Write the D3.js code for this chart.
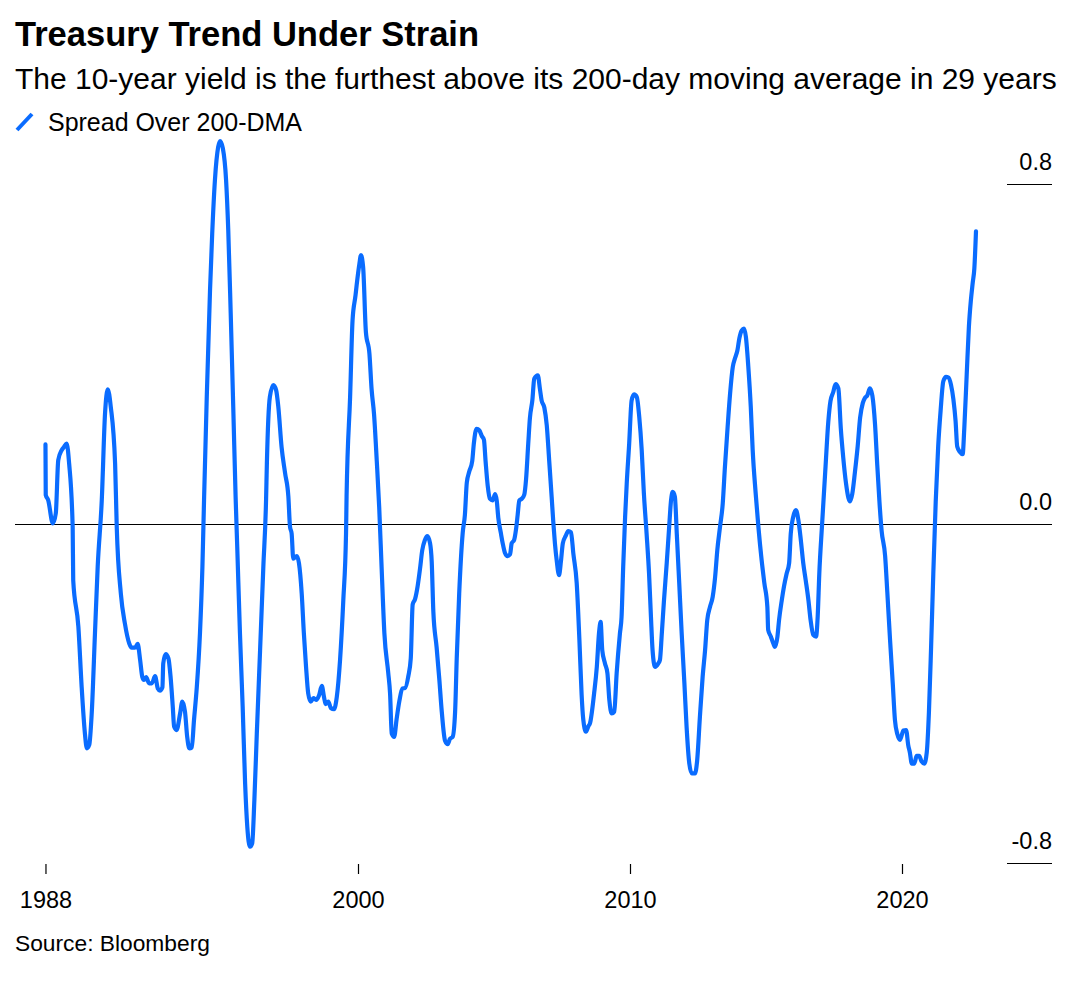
<!DOCTYPE html>
<html>
<head>
<meta charset="utf-8">
<script src="https://cdn.jsdelivr.net/npm/d3@7"></script>
<style>
  html, body { margin: 0; padding: 0; background: #ffffff; }
  svg { display: block; }
  text { font-family: "Liberation Sans", Arial, Helvetica, sans-serif; fill: #000; }
</style>
</head>
<body>
<svg id="chart" width="1080" height="987"></svg>
<script>
// ---------------- DATA ----------------
const title = "Treasury Trend Under Strain";
const subtitle = "The 10-year yield is the furthest above its 200-day moving average in 29 years";
const seriesName = "Spread Over 200-DMA";
const source = "Source: Bloomberg";

// decimal year of each observation
const dates = [
  1988.51,1988.52,1988.61,1988.78,1988.89,1988.98,1989.11,1989.19,1989.29,1989.38,
  1989.51,1989.53,1989.72,1989.84,1989.96,1990.03,1990.12,1990.21,1990.33,1990.43,
  1990.58,1990.70,1990.80,1990.91,1991.07,1991.13,1991.28,1991.43,1991.59,1991.68,
  1991.80,1991.90,1991.99,1992.07,1992.13,1992.21,1992.32,1992.42,1992.54,1992.64,
  1992.72,1992.81,1992.84,1992.93,1993.03,1993.11,1993.19,1993.24,1993.33,1993.46,
  1993.54,1993.64,1993.72,1993.80,1993.89,1993.97,1994.07,1994.19,1994.28,1994.34,
  1994.44,1994.56,1994.64,1994.74,1994.86,1994.93,1995.03,1995.15,1995.23,1995.32,
  1995.42,1995.50,1995.56,1995.66,1995.76,1995.85,1995.93,1996.03,1996.11,1996.19,
  1996.28,1996.40,1996.52,1996.62,1996.65,1996.76,1996.89,1996.99,1997.07,1997.19,
  1997.32,1997.44,1997.50,1997.56,1997.62,1997.75,1997.83,1997.93,1998.01,1998.09,
  1998.17,1998.26,1998.36,1998.46,1998.57,1998.67,1998.75,1998.81,1998.91,1999.00,
  1999.12,1999.22,1999.34,1999.46,1999.56,1999.58,1999.71,1999.80,1999.91,1999.95,
  2000.05,2000.11,2000.19,2000.29,2000.42,2000.50,2000.59,2000.69,2000.78,2000.87,
  2000.97,2001.11,2001.18,2001.24,2001.33,2001.42,2001.52,2001.63,2001.73,2001.85,
  2001.94,2002.01,2002.10,2002.19,2002.28,2002.36,2002.46,2002.55,2002.65,2002.71,
  2002.77,2002.89,2002.99,2003.08,2003.20,2003.30,2003.38,2003.48,2003.57,2003.63,
  2003.72,2003.85,2003.93,2004.00,2004.09,2004.20,2004.26,2004.36,2004.46,2004.55,
  2004.63,2004.69,2004.77,2004.85,2004.95,2005.04,2005.10,2005.16,2005.25,2005.32,
  2005.40,2005.50,2005.59,2005.65,2005.74,2005.81,2005.87,2005.93,2006.02,2006.11,
  2006.18,2006.26,2006.32,2006.41,2006.48,2006.61,2006.69,2006.75,2006.85,2006.94,
  2007.03,2007.12,2007.18,2007.24,2007.31,2007.39,2007.46,2007.53,2007.64,2007.73,
  2007.83,2007.92,2008.04,2008.14,2008.22,2008.28,2008.38,2008.47,2008.53,2008.68,
  2008.78,2008.86,2008.92,2008.98,2009.08,2009.17,2009.24,2009.33,2009.42,2009.51,
  2009.63,2009.69,2009.75,2009.82,2009.88,2009.97,2010.06,2010.15,2010.25,2010.34,
  2010.43,2010.51,2010.61,2010.70,2010.77,2010.83,2010.92,2011.04,2011.10,2011.17,
  2011.25,2011.35,2011.44,2011.51,2011.57,2011.65,2011.72,2011.81,2011.90,2012.00,
  2012.08,2012.18,2012.27,2012.39,2012.47,2012.57,2012.67,2012.76,2012.84,2012.94,
  2013.04,2013.13,2013.21,2013.31,2013.41,2013.49,2013.59,2013.68,2013.78,2013.86,
  2013.95,2014.02,2014.11,2014.19,2014.26,2014.35,2014.44,2014.51,2014.62,2014.72,
  2014.84,2014.94,2015.05,2015.08,2015.18,2015.27,2015.33,2015.42,2015.48,2015.58,
  2015.66,2015.76,2015.85,2015.91,2016.00,2016.10,2016.19,2016.28,2016.37,2016.46,
  2016.56,2016.64,2016.74,2016.84,2016.90,2016.96,2017.06,2017.19,2017.29,2017.37,
  2017.47,2017.56,2017.66,2017.75,2017.84,2017.94,2018.03,2018.09,2018.17,2018.27,
  2018.37,2018.46,2018.56,2018.64,2018.72,2018.82,2018.91,2019.01,2019.09,2019.17,
  2019.25,2019.38,2019.46,2019.56,2019.66,2019.74,2019.83,2019.93,2020.05,2020.15,
  2020.23,2020.29,2020.36,2020.45,2020.54,2020.63,2020.72,2020.82,2020.91,2020.99,
  2021.07,2021.15,2021.24,2021.33,2021.42,2021.52,2021.62,2021.70,2021.80,2021.89,
  2021.97,2022.03,2022.13,2022.23,2022.29,2022.38,2022.46,2022.53,2022.60,2022.66,
  2022.72
];

// spread of 10-year yield over its 200-day moving average (percentage points)
const spread = [
  0.187,0.068,0.056,0.001,0.025,0.150,0.174,0.181,0.189,0.142,
  -0.007,-0.133,-0.243,-0.384,-0.494,-0.529,-0.521,-0.447,-0.258,-0.101,
  0.056,0.260,0.317,0.276,0.142,-0.007,-0.164,-0.235,-0.282,-0.292,
  -0.292,-0.283,-0.321,-0.361,-0.368,-0.361,-0.376,-0.376,-0.359,-0.388,
  -0.393,-0.385,-0.329,-0.307,-0.317,-0.361,-0.431,-0.478,-0.486,-0.447,
  -0.419,-0.443,-0.502,-0.529,-0.527,-0.463,-0.388,-0.258,-0.101,0.056,
  0.299,0.551,0.684,0.810,0.888,0.902,0.885,0.810,0.692,0.496,
  0.260,0.064,-0.054,-0.258,-0.431,-0.612,-0.714,-0.761,-0.753,-0.651,
  -0.494,-0.298,-0.101,0.056,0.142,0.299,0.327,0.315,0.276,0.181,
  0.119,0.064,-0.007,-0.023,-0.082,-0.076,-0.093,-0.164,-0.258,-0.337,
  -0.400,-0.419,-0.411,-0.415,-0.404,-0.382,-0.408,-0.425,-0.419,-0.434,
  -0.437,-0.408,-0.321,-0.180,-0.023,0.064,0.299,0.480,0.539,0.562,
  0.612,0.633,0.604,0.452,0.401,0.317,0.258,0.148,0.038,-0.106,
  -0.258,-0.350,-0.401,-0.494,-0.502,-0.460,-0.418,-0.388,-0.387,-0.359,
  -0.317,-0.190,-0.177,-0.148,-0.106,-0.063,-0.038,-0.029,-0.046,-0.089,
  -0.207,-0.291,-0.367,-0.443,-0.511,-0.519,-0.507,-0.502,-0.443,-0.317,
  -0.165,-0.021,0.021,0.097,0.123,0.148,0.190,0.224,0.220,0.207,
  0.198,0.148,0.089,0.059,0.055,0.070,0.055,0.013,-0.021,-0.046,
  -0.068,-0.076,-0.072,-0.046,-0.038,-0.013,0.021,0.055,0.059,0.068,
  0.106,0.190,0.249,0.291,0.342,0.350,0.317,0.291,0.274,0.232,
  0.148,0.063,0.004,-0.046,-0.089,-0.121,-0.089,-0.046,-0.028,-0.017,
  -0.020,-0.072,-0.139,-0.274,-0.401,-0.460,-0.490,-0.477,-0.470,-0.400,
  -0.337,-0.258,-0.231,-0.298,-0.329,-0.352,-0.415,-0.447,-0.443,-0.352,
  -0.258,-0.219,-0.101,0.016,0.095,0.189,0.291,0.305,0.299,0.252,
  0.174,0.072,-0.023,-0.117,-0.219,-0.298,-0.337,-0.329,-0.321,-0.258,
  -0.180,-0.093,-0.007,0.056,0.075,0.064,-0.023,-0.140,-0.258,-0.376,
  -0.478,-0.565,-0.588,-0.588,-0.557,-0.455,-0.361,-0.298,-0.227,-0.196,
  -0.172,-0.125,-0.062,-0.007,0.048,0.134,0.229,0.307,0.370,0.390,
  0.409,0.437,0.456,0.460,0.441,0.370,0.276,0.174,0.072,-0.007,
  -0.086,-0.140,-0.196,-0.250,-0.266,-0.282,-0.290,-0.266,-0.227,-0.180,
  -0.148,-0.117,-0.093,-0.023,0.016,0.032,0.009,-0.038,-0.093,-0.133,
  -0.180,-0.227,-0.262,-0.266,-0.219,-0.117,-0.003,0.136,0.240,0.289,
  0.310,0.329,0.319,0.225,0.156,0.096,0.061,0.053,0.070,0.122,
  0.182,0.250,0.285,0.297,0.302,0.319,0.302,0.233,0.139,0.053,
  -0.016,-0.076,-0.161,-0.273,-0.376,-0.462,-0.496,-0.509,-0.487,-0.486,
  -0.522,-0.539,-0.565,-0.565,-0.547,-0.547,-0.560,-0.565,-0.539,-0.444,
  -0.290,-0.119,0.053,0.182,0.267,0.336,0.346,0.345,0.328,0.293,
  0.242,0.182,0.169,0.164,0.225,0.353,0.465,0.525,0.568,0.602,
  0.689
];

// x ticks: the first tick sits on the first observation (labelled 1988)
const xTickYears = [dates[0], 2000, 2010, 2020];
const xTickLabels = ["1988", "2000", "2010", "2020"];
const yTickValues = [0.8, 0.0, -0.8];
const yTickLabels = ["0.8", "0.0", "-0.8"];

// ---------------- CHART ----------------
const blue = "#0a6cff";
const svg = d3.select("#chart");
const font = '"Liberation Sans", Arial, Helvetica, sans-serif';

// fit a text element to a target width by adjusting its font-size
function fit(sel, targetWidth) {
  const w = sel.node().getComputedTextLength();
  const fs = parseFloat(sel.attr("font-size"));
  sel.attr("font-size", (fs * targetWidth / w).toFixed(2));
}

// Header
fit(svg.append("text").attr("x", 15).attr("y", 46)
  .attr("font-size", 31).attr("font-weight", 700).text(title), 464);
fit(svg.append("text").attr("x", 15).attr("y", 88.5)
  .attr("font-size", 24).text(subtitle), 1042);

// Legend
svg.append("line")
  .attr("x1", 17).attr("y1", 130).attr("x2", 32).attr("y2", 114)
  .attr("stroke", blue).attr("stroke-width", 4).attr("stroke-linecap", "butt");
fit(svg.append("text").attr("x", 48).attr("y", 131)
  .attr("font-size", 21).text(seriesName), 254);

// Scales
const x = d3.scaleLinear()
  .domain([2000, 2010])
  .range([358, 630]);
const y = d3.scaleLinear()
  .domain([-0.8, 0.8])
  .range([863.3, 184.3]);

// Y axis labels on the right, with short rules under 0.8 and -0.8
const yAxis = svg.append("g");
yTickValues.forEach((v, i) => {
  const yy = Math.round(y(v)) + 0.5;
  yAxis.append("line")
    .attr("x1", v === 0 ? 15 : 1007).attr("x2", 1052)
    .attr("y1", yy).attr("y2", yy)
    .attr("stroke", "#000").attr("stroke-width", 1.2);
  yAxis.append("text")
    .attr("x", 1052).attr("y", y(v) - 14)
    .attr("text-anchor", "end")
    .attr("font-size", 23.5)
    .text(yTickLabels[i]);
});

// X axis
const xAxis = d3.axisBottom(x)
  .tickValues(xTickYears)
  .tickFormat((d, i) => xTickLabels[i])
  .tickSize(10)
  .tickPadding(10);
const gx = svg.append("g").attr("transform", "translate(0,864)").call(xAxis);
gx.select(".domain").remove();
gx.selectAll(".tick line").attr("stroke", "#000").attr("stroke-width", 1.2);
gx.selectAll(".tick text")
  .attr("font-family", font)
  .attr("font-size", 23.5)
  .attr("fill", "#000")
  .attr("dy", null)
  .attr("y", 43.5);

// Line
const data = dates.map((d, i) => ({ t: d, v: spread[i] }));
const line = d3.line()
  .x(d => x(d.t))
  .y(d => y(d.v))
  .curve(d3.curveMonotoneX);
svg.append("path")
  .datum(data)
  .attr("d", line)
  .attr("fill", "none")
  .attr("stroke", blue)
  .attr("stroke-width", 4.2)
  .attr("stroke-linejoin", "round")
  .attr("stroke-linecap", "round");

// Source
fit(svg.append("text").attr("x", 15).attr("y", 951)
  .attr("font-size", 21).text(source), 195);
</script>
</body>
</html>
